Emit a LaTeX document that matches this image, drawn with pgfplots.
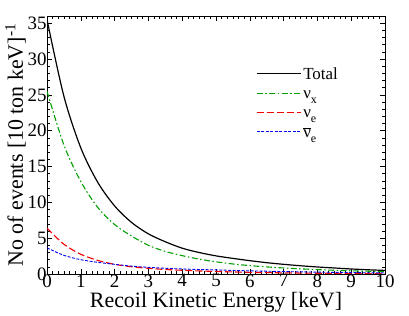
\documentclass[border=0pt]{standalone}
\usepackage{fontspec}
\setmainfont{Liberation Serif}
\usepackage{pgfplots}
\pgfplotsset{compat=1.18}
\definecolor{ngreen}{RGB}{0,160,0}
\definecolor{nred}{RGB}{245,0,0}
\definecolor{nblue}{RGB}{0,0,245}
\begin{document}
\begin{tikzpicture}
\begin{axis}[
  name=ax, at={(0,0)}, anchor=south west,
  scale only axis, width=338bp, height=258bp,
  xmin=0, xmax=10, ymin=0, ymax=36,
  xtick={0,1,...,10}, ytick={0,5,...,35},
  minor x tick num=5, minor y tick num=4,
  tick align=inside, tick pos=both,
  major tick length=5bp, minor tick length=3bp,
  tick style={black, line width=0.6pt},
  axis line style={line width=0.8pt},
  /pgf/number format/assume math mode=true,
  ticklabel style={font=\fontsize{19}{19}\selectfont},
  xticklabel style={yshift=3bp},
  yticklabel style={xshift=3bp},
  xlabel={Recoil Kinetic Energy [keV]},
  ylabel={No of events [10 ton keV]\textsuperscript{-1}},
  label style={font=\fontsize{22}{22}\selectfont},
  xlabel style={yshift=2bp},
  ylabel style={yshift=-5bp},
  legend style={draw=none, fill=none, at={(0.618,0.81)}, anchor=north west,
    inner sep=0pt, font=\fontsize{17}{17}\selectfont, row sep=2bp},
  legend cell align=left,
  legend image code/.code={\draw[#1] (0bp,0bp) -- (44bp,0bp);},
]
\addplot[black, line width=1.2pt, smooth] coordinates {
(0,35.5) (0.5,24.8) (1,17.6) (1.5,12.8) (2,9.5) (2.5,7.2) (3,5.6) (3.5,4.5) (4,3.6) (4.5,3.0) (5,2.53) (5.5,2.18) (6,1.86) (6.5,1.58) (7,1.35) (7.5,1.15) (8,0.98) (8.5,0.84) (9,0.70) (9.5,0.59) (10,0.50)};
\addlegendentry{\strut Total}
\addplot[color=ngreen, line width=1.1pt, dash pattern=on 6pt off 2.5pt on 1.5pt off 2.5pt, smooth] coordinates {
(0,25.5) (0.5,18.0) (1,12.9) (1.5,9.3) (2,6.9) (2.5,5.3) (3,4.0) (3.5,3.15) (4,2.56) (4.5,2.08) (5,1.70) (5.5,1.40) (6,1.17) (6.5,0.99) (7,0.84) (7.5,0.72) (8,0.61) (8.5,0.52) (9,0.45) (9.5,0.39) (10,0.33)};
\addlegendentry{\strut ν\raisebox{-5bp}{\fontsize{12}{12}\selectfont x}}
\addplot[color=nred, line width=1.1pt, dash pattern=on 7pt off 3pt, smooth] coordinates {
(0,6.4) (0.5,4.15) (1,2.75) (1.5,1.9) (2,1.35) (2.5,1.01) (3,0.79) (3.5,0.63) (4,0.52) (4.5,0.43) (5,0.35) (5.5,0.29) (6,0.23) (6.5,0.19) (7,0.16) (7.5,0.13) (8,0.105) (8.5,0.085) (9,0.07) (9.5,0.06) (10,0.05)};
\addlegendentry{\strut ν\raisebox{-5bp}{\fontsize{12}{12}\selectfont e}}
\addplot[color=nblue, line width=0.9pt, dash pattern=on 3pt off 1.5pt, smooth] coordinates {
(0,3.65) (0.5,2.6) (1,2.0) (1.5,1.63) (2,1.35) (2.5,1.1) (3,0.93) (3.5,0.8) (4,0.7) (4.5,0.63) (5,0.57) (5.5,0.5) (6,0.44) (6.5,0.39) (7,0.34) (7.5,0.3) (8,0.26) (8.5,0.23) (9,0.2) (9.5,0.17) (10,0.15)};
\addlegendentry{\strut\ensuremath{\overline{\mbox{ν}}}\raisebox{-5bp}{\fontsize{12}{12}\selectfont e}}
\end{axis}
\pgfresetboundingbox
\path (-47bp,-42bp) rectangle (362bp,274bp);
\end{tikzpicture}
\end{document}
